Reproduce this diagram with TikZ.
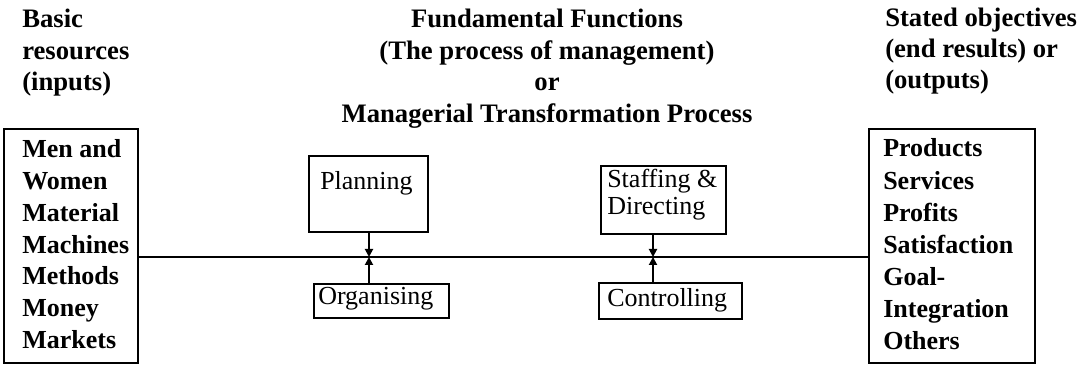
\documentclass[tikz,border=0pt]{standalone}
\usepackage{fontspec}
\setmainfont{Liberation Serif}
\usetikzlibrary{arrows.meta}
\begin{document}
\begin{tikzpicture}[x=0.75pt,y=-0.75pt,
  bigbox/.style={draw,line width=1.8pt,inner sep=0pt,anchor=north west},
  fnbox/.style={draw,line width=1.4pt,inner sep=0pt,anchor=north west},
  btxt/.style={font=\fontsize{20}{24}\selectfont\bfseries,inner sep=0pt,anchor=base west},
  ltxt/.style={font=\fontsize{19.5}{24}\selectfont\bfseries,inner sep=0pt,anchor=base west},
  ctxt/.style={font=\fontsize{20}{24}\selectfont\bfseries,inner sep=0pt,anchor=base},
  rtxt/.style={font=\fontsize{19.5}{24}\selectfont,inner sep=0pt,anchor=base west},
  conn/.style={line width=1.4pt},
  arr/.style={line width=1.4pt,-{Triangle[length=6pt,width=6pt]}}]
\useasboundingbox (0,0) rectangle (1081,366);
% headers
\node[btxt] (h1) at (22,28) {Basic};
\node[btxt] (h2) at (22,60) {resources};
\node[btxt] (h3) at (22,91) {(inputs)};
\node[ctxt] (c1) at (547,28) {Fundamental Functions};
\node[ctxt] (c2) at (547,60) {(The process of management)};
\node[ctxt] (c3) at (547,91) {or};
\node[ctxt] (c4) at (547,123) {Managerial Transformation Process};
\node[btxt] (r1) at (885,27) {Stated objectives};
\node[btxt] (r2) at (885,58) {(end results) or};
\node[btxt] (r3) at (885,89) {(outputs)};
% outer boxes
\node[bigbox,minimum width=134*0.75pt,minimum height=234*0.75pt] (inputs) at (3,128) {};
\node[bigbox,minimum width=166*0.75pt,minimum height=234*0.75pt] (outputs) at (868,128) {};
\foreach \t [count=\i from 0] in {Men and,Women,Material,Machines,Methods,Money,Markets}
  \node[ltxt] (in\i) at (22,158+31.7*\i) {\t};
\foreach \t [count=\i from 0] in {Products,Services,Profits,Satisfaction,Goal-,Integration,Others}
  \node[ltxt] (out\i) at (883,157+32.1*\i) {\t};
% function boxes
\node[fnbox,minimum width=119*0.75pt,minimum height=76*0.75pt] (plan) at (308,155) {};
\node[rtxt] (plantxt) at (320,190) {Planning};
\node[fnbox,minimum width=125*0.75pt,minimum height=68*0.75pt] (staff) at (600,165) {};
\node[rtxt] (stafftxt1) at (607,188) {Staffing \&};
\node[rtxt] (stafftxt2) at (607,215) {Directing};
\node[fnbox,minimum width=135*0.75pt,minimum height=34*0.75pt] (org) at (313,283) {};
\node[rtxt] (orgtxt) at (318,305) {Organising};
\node[fnbox,minimum width=143*0.75pt,minimum height=36*0.75pt] (ctrl) at (598,282) {};
\node[rtxt] (ctrltxt) at (607,307) {Controlling};
% junctions on the main line
\coordinate (j1) at (369,257);
\coordinate (j2) at (653,257);
\draw[conn] (inputs.east |- j1) -- (outputs.west |- j1);
\draw[arr] (plan.south -| j1) -- (j1);
\draw[arr] (org.north -| j1) -- (j1);
\draw[arr] (staff.south -| j2) -- (j2);
\draw[arr] (ctrl.north -| j2) -- (j2);
\end{tikzpicture}
\end{document}
